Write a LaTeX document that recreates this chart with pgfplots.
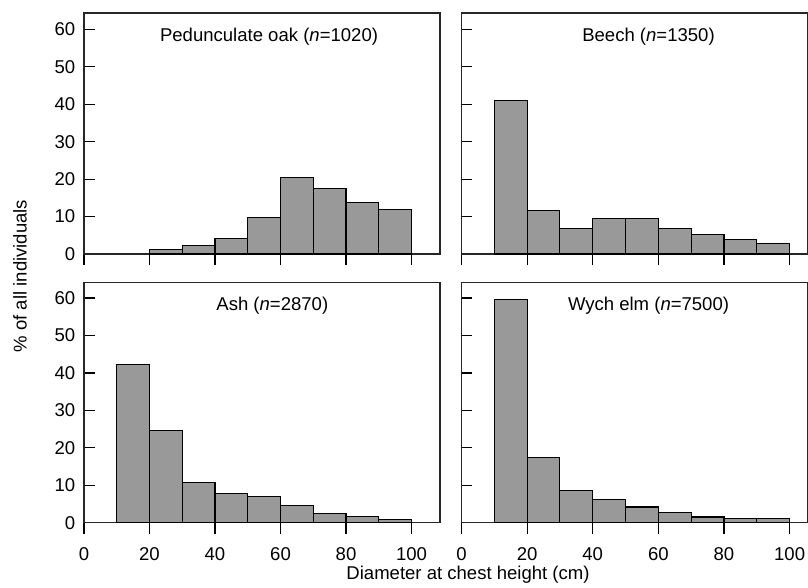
\documentclass[border=0pt]{standalone}
\usepackage{fontspec}
\setmainfont{Liberation Sans}
\usepackage{pgfplots}
\pgfplotsset{compat=1.18}

\definecolor{barfill}{RGB}{153,153,153}
\newcommand{\lbl}{\fontsize{13.9}{16}\selectfont}

\pgfplotsset{
  panel/.style={
    scale only axis, anchor=north west,
    xmin=0, ymin=0,
    axis line style={black!85, line width=1pt},
    tick align=inside, xtick pos=bottom, ytick pos=left,
    xtick={0,20,...,100}, ytick={0,10,...,60},
    major tick length=8.25pt,
    major tick style={black, line width=0.9pt},
    major x tick style={yshift=-8.25pt},
    /pgf/number format/assume math mode=true,
    tick label style={font=\lbl},
    yticklabel style={xshift=-3pt},
    xticklabel style={yshift=-15.5pt},
  },
  bars/.style={ybar interval, fill=barfill, draw=black, line width=0.85pt},
}

\begin{document}
\begin{tikzpicture}
\path[use as bounding box] (0,0) rectangle (606pt,-440.25pt);

% top left
\begin{axis}[panel, at={(63pt,-9.75pt)}, width=267pt, height=180.75pt,
  xmax=108.7, ymax=64.35, xticklabels={}]
  \addplot[bars] coordinates {(20,1.25) (30,2.2) (40,4.1) (50,9.7) (60,20.4) (70,17.5) (80,13.7) (90,11.9) (100,0)};
  \node[font=\lbl] at (axis cs:56.5,58) {Pedunculate oak (\textit{n}=1020)};
\end{axis}

% top right
\begin{axis}[panel, at={(346.1pt,-9.75pt)}, width=259.9pt, height=180.75pt,
  xmax=105.6, ymax=64.35, xticklabels={}, yticklabels={}]
  \addplot[bars] coordinates {(10,41.0) (20,11.7) (30,6.9) (40,9.4) (50,9.4) (60,6.9) (70,5.1) (80,3.9) (90,2.9) (100,0)};
  \node[font=\lbl] at (axis cs:57,58) {Beech (\textit{n}=1350)};
\end{axis}

% bottom left
\begin{axis}[panel, at={(63pt,-212pt)}, width=267pt, height=180pt,
  xmax=108.7, ymax=64.1]
  \addplot[bars] coordinates {(10,42.2) (20,24.7) (30,10.8) (40,7.7) (50,6.9) (60,4.5) (70,2.5) (80,1.6) (90,0.9) (100,0)};
  \node[font=\lbl] at (axis cs:57.5,58) {Ash (\textit{n}=2870)};
\end{axis}

% bottom right
\begin{axis}[panel, at={(346.1pt,-212pt)}, width=259.9pt, height=180pt,
  xmax=105.6, ymax=64.1, yticklabels={}]
  \addplot[bars] coordinates {(10,59.7) (20,17.5) (30,8.5) (40,6.2) (50,4.2) (60,2.7) (70,1.5) (80,1.1) (90,1.1) (100,0)};
  \node[font=\lbl] at (axis cs:57,58) {Wych elm (\textit{n}=7500)};
\end{axis}

\node[font=\lbl] at (351pt,-431.25pt) {Diameter at chest height (cm)};
\node[font=\lbl, rotate=90] at (15pt,-207pt) {\% of all individuals};
\end{tikzpicture}
\end{document}
